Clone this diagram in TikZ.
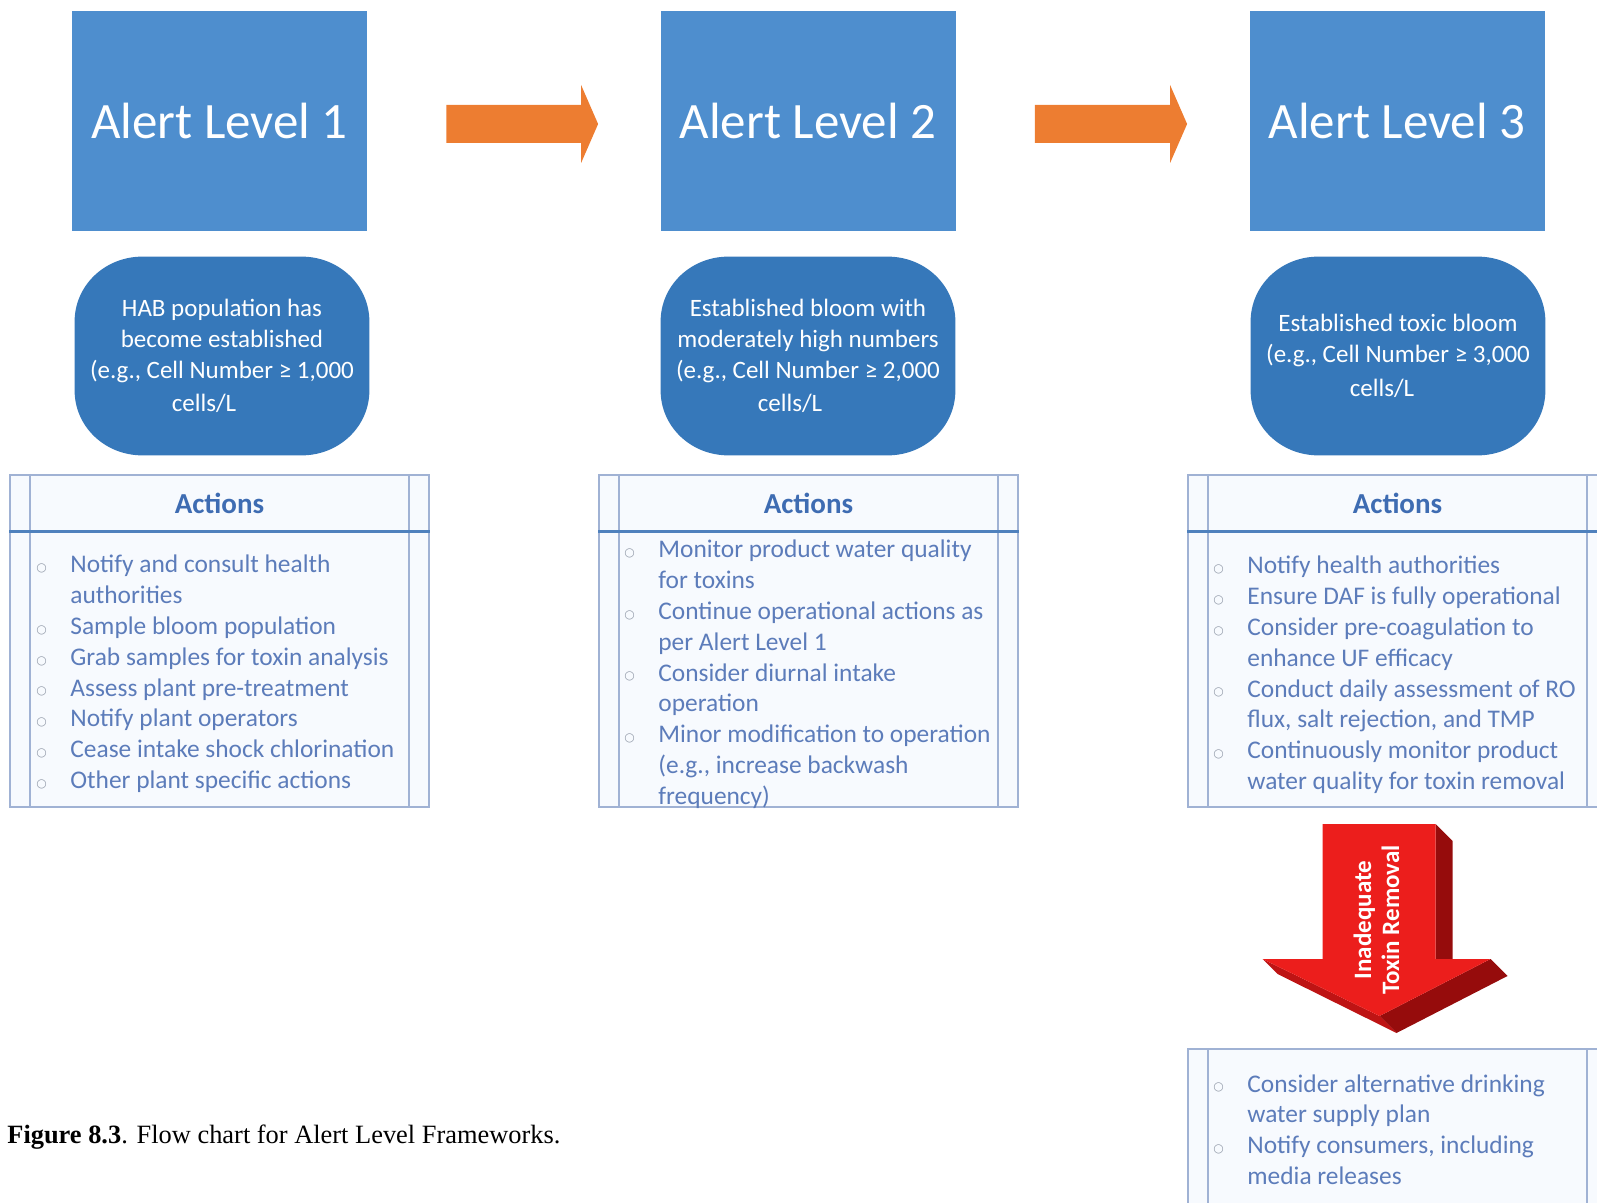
\documentclass[tikz,border=0pt]{standalone}
\usepackage{fontspec}
\setmainfont{Carlito}
\newfontfamily\capfont{Liberation Serif}
\newfontfamily\symfont{DejaVu Sans}
\usetikzlibrary{calc,positioning,backgrounds}
\definecolor{lvlblue}{RGB}{78,142,206}
\definecolor{condblue}{RGB}{54,120,186}
\definecolor{stepor}{RGB}{237,125,49}
\definecolor{actframe}{RGB}{160,178,212}
\definecolor{actline}{RGB}{79,129,189}
\definecolor{actbg}{RGB}{247,250,254}
\definecolor{acttitle}{RGB}{62,108,178}
\definecolor{acttext}{RGB}{92,124,186}
\definecolor{bulgray}{RGB}{150,158,172}
\definecolor{redfront}{RGB}{236,30,28}
\definecolor{redside}{RGB}{150,12,12}
\definecolor{redlow}{RGB}{190,20,20}

\newcommand\actdot{\makebox[17pt][l]{\raisebox{0.6pt}{\symfont\fontsize{6}{6}\selectfont\color{bulgray}○}}}
% rounded blob behind a condition node
\newcommand\condblob[1]{%
  \fill[condblue] ($(#1.north west)+(68,0)$) -- ($(#1.north east)+(-68,0)$)
    .. controls ($(#1.north east)+(-30,0)$) and ($(#1.north east)+(0,29)$) .. ($(#1.north east)+(0,65)$)
    -- ($(#1.south east)+(0,-65)$)
    .. controls ($(#1.south east)+(0,-29)$) and ($(#1.south east)+(-30,0)$) .. ($(#1.south east)+(-68,0)$)
    -- ($(#1.south west)+(68,0)$)
    .. controls ($(#1.south west)+(30,0)$) and ($(#1.south west)+(0,-29)$) .. ($(#1.south west)+(0,-65)$)
    -- ($(#1.north west)+(0,65)$)
    .. controls ($(#1.north west)+(0,29)$) and ($(#1.north west)+(30,0)$) .. ($(#1.north west)+(68,0)$) -- cycle;}

\begin{document}
\begin{tikzpicture}[x=0.5pt, y=-0.5pt,
  lvlbox/.style={fill=lvlblue, text=white, minimum width=147.5pt, minimum height=110pt, inner sep=0pt, font=\fontsize{25.5}{30}\selectfont},
  condbox/.style={minimum width=147pt, minimum height=99pt, inner sep=0pt, align=center, text=white, font=\fontsize{12.5}{15.4}\selectfont},
  actbox/.style={draw=actframe, line width=1pt, fill=actbg, minimum width=209.5pt, inner sep=0pt},
  acthead/.style={text=acttitle, inner sep=0pt, font=\bfseries\fontsize{14.5}{17}\selectfont},
  actitems/.style={anchor=base west, inner sep=0pt, text=acttext, font=\fontsize{12.7}{15.4}\selectfont}
]
  \useasboundingbox (0,0) rectangle (1597,1203);

  \node[lvlbox] (lvl1) at (219.5,121) {Alert Level 1};
  \node[lvlbox] (lvl2) at (808,121) {Alert Level 2};
  \node[lvlbox] (lvl3) at (1397,121) {Alert Level 3};

  \foreach \a/\b in {lvl1/lvl2, lvl2/lvl3}
    \fill[stepor] ($(\a.east)+(79,-16)$) -- ($(\b.west)+(-79,-16)$) -- ($(\b.west)+(-79,-36)$)
      -- ($(\b.west)+(-62,3)$) -- ($(\b.west)+(-79,42)$) -- ($(\b.west)+(-79,22)$)
      -- ($(\a.east)+(79,22)$) -- cycle;

  \node[condbox] (cond1) at (222,356) {HAB population has\\become established\\(e.g., Cell Number ≥ 1,000\\[1pt]cells/L\hspace*{18pt}};
  \node[condbox] (cond2) at (808,356) {Established bloom with\\moderately high numbers\\(e.g., Cell Number ≥ 2,000\\[1pt]cells/L\hspace*{18pt}};
  \node[condbox] (cond3) at (1398,356) {Established toxic bloom\\(e.g., Cell Number ≥ 3,000\\[2pt]cells/L\hspace*{16pt}};
  \begin{scope}[on background layer]
    \condblob{cond1}
    \condblob{cond2}
    \condblob{cond3}
  \end{scope}

  \node[actbox, minimum height=166pt] (act1) at (219.5,641) {};
  \node[actbox, minimum height=166pt] (act2) at (808.5,641) {};
  \node[actbox, minimum height=166pt] (act3) at (1397.5,641) {};
  \node[actbox, minimum height=90pt] (act4) at (1397.5,1139) {};

  \foreach \b in {act1,act2,act3,act4} {
    \draw[actframe, line width=1pt] ($(\b.north west)+(21,0)$) -- ($(\b.south west)+(21,0)$);
    \draw[actframe, line width=1pt] ($(\b.north east)+(-21,0)$) -- ($(\b.south east)+(-21,0)$);
  }
  \foreach \b in {act1,act2,act3} {
    \draw[actline, line width=1.5pt] ($(\b.north west)+(0,58)$) -- ($(\b.north east)+(0,58)$);
    \node[acthead] (hd\b) at ($(\b.north)+(0,29)$) {Actions};
  }

  \node[actitems] (list1) at ($(act1.north west)+(27,99)$) {\begin{tabular}[t]{@{}l@{}l@{}}
    \actdot & Notify and consult health\\ & authorities\\
    \actdot & Sample bloom population\\
    \actdot & Grab samples for toxin analysis\\
    \actdot & Assess plant pre-treatment\\
    \actdot & Notify plant operators\\
    \actdot & Cease intake shock chlorination\\
    \actdot & Other plant specific actions
  \end{tabular}};
  \node[actitems] (list2) at ($(act2.north west)+(26,84)$) {\begin{tabular}[t]{@{}l@{}l@{}}
    \actdot & Monitor product water quality\\ & for toxins\\
    \actdot & Continue operational actions as\\ & per Alert Level 1\\
    \actdot & Consider diurnal intake\\ & operation\\
    \actdot & Minor modification to operation\\ & (e.g., increase backwash\\ & frequency)
  \end{tabular}};
  \node[actitems] (list3) at ($(act3.north west)+(26,100)$) {\begin{tabular}[t]{@{}l@{}l@{}}
    \actdot & Notify health authorities\\
    \actdot & Ensure DAF is fully operational\\
    \actdot & Consider pre-coagulation to\\ & enhance UF efficacy\\
    \actdot & Conduct daily assessment of RO\\ & flux, salt rejection, and TMP\\
    \actdot & Continuously monitor product\\ & water quality for toxin removal
  \end{tabular}};
  \node[actitems] (list4) at ($(act4.north west)+(26,44)$) {\begin{tabular}[t]{@{}l@{}l@{}}
    \actdot & Consider alternative drinking\\ & water supply plan\\
    \actdot & Notify consumers, including\\ & media releases
  \end{tabular}};

  % 3-D arrow from level 3 actions down to the fallback actions
  \coordinate (rA) at ($(act3.south)+(-75,16)$);
  \coordinate (rB) at ($(act3.south)+(38,16)$);
  \coordinate (rC) at ($(act4.north)+(38,-89)$);
  \coordinate (rD) at ($(act4.north)+(93,-89)$);
  \coordinate (rE) at ($(act4.north)+(-18,-32)$);
  \coordinate (rF) at ($(act4.north)+(-135,-89)$);
  \coordinate (rG) at ($(act4.north)+(-75,-89)$);
  \fill[redside] (rB) -- ($(rB)+(17,17)$) -- ($(rC)+(17,17)$) -- (rC) -- cycle;
  \fill[redside] (rD) -- ($(rD)+(17,17)$) -- ($(rE)+(17,17)$) -- (rE) -- cycle;
  \fill[redlow] (rF) -- ($(rF)+(15,15)$) -- ($(rE)+(17,17)$) -- (rE) -- cycle;
  \fill[redfront] (rA) -- (rB) -- (rC) -- (rD) -- (rE) -- (rF) -- (rG) -- cycle;
  \node[rotate=90, align=center, text=white, inner sep=0pt, font=\bfseries\fontsize{12.5}{14}\selectfont] (lbl) at ($(act3.south)!0.5!(act4.north)+(-21,-8)$) {Inadequate\\Toxin Removal};

  \node[anchor=base west, inner sep=0pt, font=\capfont\fontsize{13.2}{16}\selectfont] (cap) at (7,1143) {\textbf{Figure 8.3}. Flow chart for Alert Level Frameworks.};
\end{tikzpicture}
\end{document}
